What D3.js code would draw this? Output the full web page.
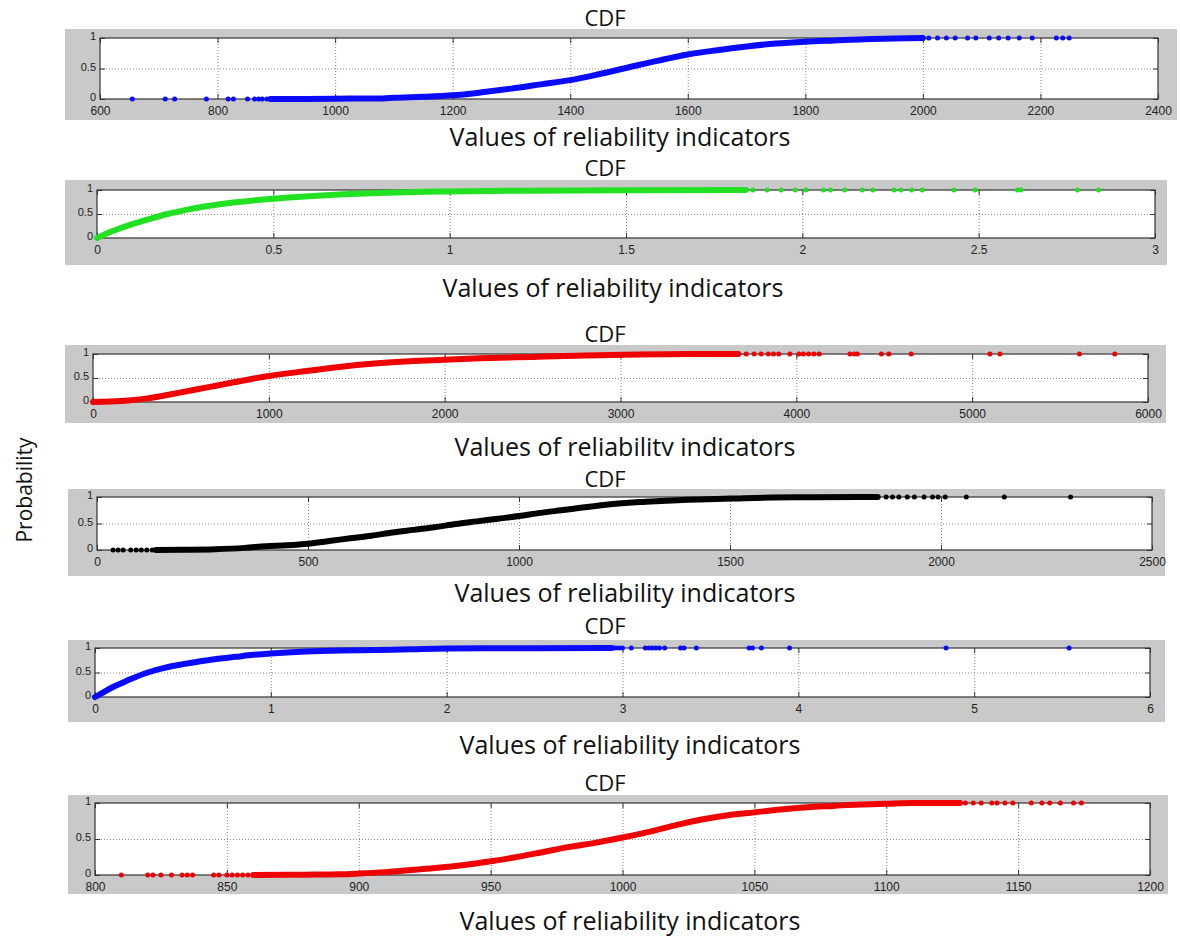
<!DOCTYPE html>
<html>
<head>
<meta charset="utf-8">
<script src="https://cdn.jsdelivr.net/npm/d3@7"></script>
<style>
  body { margin: 0; background: #fff; }
  .lbl { font-family: "Open Sans", "Noto Sans", sans-serif; fill: #111; }
  .tick text { font-family: "Liberation Sans Narrow", "Liberation Sans", Arial, sans-serif; font-size: 12px; fill: #222; }
  .ylab .tick text { font-size: 11px; }
  .grid line { stroke: #888; stroke-dasharray: 1, 2; }
  .grid path { display: none; }
  .ax path { display: none; }
  .ax line { stroke: #333; }
</style>
</head>
<body>
<svg width="1180" height="936"></svg>
<script>
// text
const titles = ['CDF', 'CDF', 'CDF', 'CDF', 'CDF', 'CDF']
const xLabel = 'Values of reliability indicators'
const yLabel = 'Probability'
const yTicks = [0, 0.5, 1]

// panel 1 (blue)
const xTicks1 = [600, 800, 1000, 1200, 1400, 1600, 1800, 2000, 2200, 2400]
const curveX1 = [890, 950, 1000, 1050, 1080, 1100, 1150, 1200, 1250, 1300, 1350, 1400, 1450, 1500, 1550, 1600, 1650, 1700, 1750, 1800, 1850, 1900, 1950, 2000]
const curveP1 = [0, 0.002, 0.005, 0.008, 0.01, 0.02, 0.035, 0.06, 0.11, 0.17, 0.24, 0.31, 0.41, 0.52, 0.63, 0.73, 0.8, 0.86, 0.91, 0.94, 0.96, 0.98, 0.99, 1]
const lowTail1 = [655, 711, 727, 781, 818, 827, 851, 863, 870, 876, 884]
const highTail1 = [2010, 2025, 2040, 2055, 2076, 2090, 2113, 2129, 2145, 2164, 2186, 2227, 2238, 2249]

// panel 2 (green)
const xTicks2 = [0, 0.5, 1, 1.5, 2, 2.5, 3]
const curveX2 = [0, 0.02, 0.05, 0.1, 0.15, 0.2, 0.25, 0.3, 0.4, 0.5, 0.6, 0.7, 0.8, 0.9, 1, 1.2, 1.5, 1.84]
const curveP2 = [0, 0.07, 0.16, 0.29, 0.4, 0.5, 0.58, 0.65, 0.75, 0.82, 0.87, 0.91, 0.94, 0.96, 0.97, 0.985, 0.995, 1]
const lowTail2 = []
const highTail2 = [1.86, 1.9, 1.94, 1.98, 2.01, 2.06, 2.08, 2.12, 2.17, 2.2, 2.26, 2.28, 2.31, 2.34, 2.43, 2.49, 2.61, 2.62, 2.78, 2.84]

// panel 3 (red)
const xTicks3 = [0, 1000, 2000, 3000, 4000, 5000, 6000]
const curveX3 = [0, 100, 200, 300, 400, 500, 600, 700, 800, 900, 1000, 1200, 1400, 1600, 1800, 2000, 2200, 2500, 2800, 3100, 3400, 3670]
const curveP3 = [0, 0.01, 0.03, 0.07, 0.13, 0.2, 0.27, 0.34, 0.41, 0.48, 0.54, 0.64, 0.73, 0.8, 0.85, 0.88, 0.91, 0.94, 0.97, 0.99, 1, 1]
const lowTail3 = []
const highTail3 = [3715, 3760, 3800, 3840, 3870, 3900, 3963, 4015, 4040, 4070, 4100, 4130, 4305, 4330, 4347, 4484, 4526, 4653, 5101, 5158, 5610, 5811]

// panel 4 (black)
const xTicks4 = [0, 500, 1000, 1500, 2000, 2500]
const curveX4 = [140, 200, 280, 350, 400, 450, 500, 550, 600, 650, 700, 750, 800, 850, 900, 950, 1000, 1050, 1100, 1150, 1200, 1300, 1400, 1500, 1600, 1700, 1850]
const curveP4 = [0, 0.005, 0.015, 0.04, 0.07, 0.09, 0.12, 0.17, 0.22, 0.27, 0.33, 0.38, 0.43, 0.49, 0.54, 0.59, 0.64, 0.7, 0.75, 0.8, 0.85, 0.91, 0.95, 0.97, 0.99, 0.995, 1]
const lowTail4 = [38, 50, 62, 80, 93, 105, 118, 131]
const highTail4 = [1870, 1885, 1900, 1920, 1937, 1960, 1980, 1993, 2010, 2060, 2150, 2307]

// panel 5 (blue)
const xTicks5 = [0, 1, 2, 3, 4, 5, 6]
const curveX5 = [0, 0.05, 0.1, 0.15, 0.2, 0.3, 0.4, 0.5, 0.6, 0.7, 0.8, 0.9, 1, 1.2, 1.4, 1.6, 1.8, 2, 2.5, 2.94]
const curveP5 = [0, 0.1, 0.2, 0.28, 0.36, 0.5, 0.6, 0.67, 0.73, 0.78, 0.82, 0.86, 0.89, 0.93, 0.95, 0.96, 0.975, 0.99, 0.995, 1]
const lowTail5 = []
const highTail5 = [2.96, 2.98, 3, 3.05, 3.13, 3.15, 3.17, 3.19, 3.21, 3.24, 3.33, 3.35, 3.42, 3.72, 3.74, 3.79, 3.95, 4.84, 5.54]

// panel 6 (red)
const xTicks6 = [800, 850, 900, 950, 1000, 1050, 1100, 1150, 1200]
const curveX6 = [860, 880, 893, 900, 910, 920, 930, 940, 950, 960, 970, 980, 990, 1000, 1010, 1020, 1030, 1040, 1050, 1060, 1070, 1080, 1090, 1100, 1110, 1128]
const curveP6 = [0, 0.005, 0.01, 0.02, 0.04, 0.07, 0.1, 0.14, 0.19, 0.25, 0.32, 0.39, 0.45, 0.52, 0.6, 0.69, 0.77, 0.83, 0.87, 0.91, 0.94, 0.96, 0.98, 0.99, 1, 1]
const lowTail6 = [810, 820, 822, 825, 829, 833, 835, 837, 845, 847, 850, 852, 854, 856, 858]
const highTail6 = [1130, 1133, 1136, 1140, 1142, 1145, 1148, 1155, 1159, 1162, 1166, 1171, 1174]

const panels = [
  { ticks: xTicks1, cx: curveX1, cp: curveP1, low: lowTail1, high: highTail1 },
  { ticks: xTicks2, cx: curveX2, cp: curveP2, low: lowTail2, high: highTail2 },
  { ticks: xTicks3, cx: curveX3, cp: curveP3, low: lowTail3, high: highTail3 },
  { ticks: xTicks4, cx: curveX4, cp: curveP4, low: lowTail4, high: highTail4 },
  { ticks: xTicks5, cx: curveX5, cp: curveP5, low: lowTail5, high: highTail5 },
  { ticks: xTicks6, cx: curveX6, cp: curveP6, low: lowTail6, high: highTail6 }
]

// where each panel sits: plot box [left, right, top, bottom], grey frame, text rows
// labelClip: the scanned figure cuts some labels off at the bottom
const layout = [
  { box: [100, 1158, 38, 99], frame: [65, 1177, 29, 120], titleY: 17, labelX: 620, labelY: 136, labelClip: null, color: '#0a0aff' },
  { box: [97, 1155, 190, 238], frame: [65, 1167, 180, 265], titleY: 167, labelX: 613, labelY: 287, labelClip: null, color: '#22e022' },
  { box: [93, 1148, 354, 402], frame: [65, 1166, 345, 423], titleY: 333, labelX: 625, labelY: 446, labelClip: 456, color: '#f00000' },
  { box: [97, 1152, 497, 550], frame: [68, 1165, 489, 576], titleY: 478, labelX: 625, labelY: 592, labelClip: null, color: '#000000' },
  { box: [95, 1150, 648, 697], frame: [68, 1165, 640, 722], titleY: 625, labelX: 630, labelY: 744, labelClip: null, color: '#0a0aff' },
  { box: [95, 1150, 803, 875], frame: [68, 1168, 795, 894], titleY: 782, labelX: 630, labelY: 920, labelClip: null, color: '#f00000' }
]

const svg = d3.select('svg')

panels.forEach(function(p, i) {
  const lay = layout[i]
  const [L, R, T, B] = lay.box
  const [fl, fr, ft, fb] = lay.frame
  const g = svg.append('g')

  const x = d3.scaleLinear().domain(d3.extent(p.ticks)).range([L, R])
  const y = d3.scaleLinear().domain([0, 1]).range([B, T])

  // grey figure frame + white axes
  g.append('rect')
    .attr('x', fl).attr('y', ft)
    .attr('width', fr - fl).attr('height', fb - ft)
    .attr('fill', '#c9c9c9')
  g.append('rect')
    .attr('x', L).attr('y', T)
    .attr('width', R - L).attr('height', B - T)
    .attr('fill', '#fff')

  // clipped leftover of the old y label (first two panels)
  if (i < 2) {
    const cid = 'clip' + i
    g.append('clipPath').attr('id', cid)
      .append('rect').attr('x', fl).attr('y', ft).attr('width', 20).attr('height', fb - ft)
    g.append('text')
      .attr('clip-path', 'url(#' + cid + ')')
      .attr('transform', `translate(${fl + 5}, ${(T + B) / 2}) rotate(-90)`)
      .attr('text-anchor', 'middle')
      .style('font-family', 'Liberation Sans, Arial, sans-serif')
      .style('font-size', '10px')
      .attr('fill', '#444')
      .text('Prob.')
  }

  // dotted grid
  g.append('g')
    .attr('class', 'grid')
    .attr('transform', `translate(0, ${B})`)
    .call(d3.axisBottom(x).tickValues(p.ticks.slice(1, -1)).tickSize(-(B - T)).tickFormat(''))
  g.append('g')
    .attr('class', 'grid')
    .attr('transform', `translate(${L}, 0)`)
    .call(d3.axisLeft(y).tickValues([0.5]).tickSize(-(R - L)).tickFormat(''))

  // inward ticks on all four sides
  g.append('g')
    .attr('class', 'ax')
    .attr('transform', `translate(0, ${B})`)
    .call(d3.axisBottom(x).tickValues(p.ticks).tickSizeInner(-5).tickSizeOuter(0).tickPadding(7).tickFormat(d => String(d)))
  g.append('g')
    .attr('class', 'ax')
    .attr('transform', `translate(0, ${T})`)
    .call(d3.axisTop(x).tickValues(p.ticks).tickSizeInner(-5).tickSizeOuter(0).tickFormat(''))
  g.append('g')
    .attr('class', 'ax ylab')
    .attr('transform', `translate(${L}, 0)`)
    .call(d3.axisLeft(y).tickValues(yTicks).tickSizeInner(-5).tickSizeOuter(0).tickPadding(4).tickFormat(d => String(d)))
    .selectAll('text')
    .attr('dy', '0.15em')
  g.append('g')
    .attr('class', 'ax')
    .attr('transform', `translate(${R}, 0)`)
    .call(d3.axisRight(y).tickValues(yTicks).tickSizeInner(-5).tickSizeOuter(0).tickFormat(''))

  g.append('rect')
    .attr('x', L).attr('y', T)
    .attr('width', R - L).attr('height', B - T)
    .attr('fill', 'none')
    .attr('stroke', '#333')
    .attr('stroke-width', 1.2)

  // the cdf curve
  const pts = p.cx.map((v, k) => [v, p.cp[k]])
  const line = d3.line()
    .x(d => x(d[0]))
    .y(d => y(d[1]))
    .curve(d3.curveMonotoneX)
  g.append('path')
    .datum(pts)
    .attr('d', line)
    .attr('fill', 'none')
    .attr('stroke', lay.color)
    .attr('stroke-width', 6)
    .attr('stroke-linecap', 'round')

  // isolated samples in the tails
  g.selectAll('.lo')
    .data(p.low)
    .enter()
    .append('circle')
    .attr('cx', d => x(d))
    .attr('cy', y(0))
    .attr('r', 2.5)
    .attr('fill', lay.color)
  g.selectAll('.hi')
    .data(p.high)
    .enter()
    .append('circle')
    .attr('cx', d => x(d))
    .attr('cy', y(1))
    .attr('r', 2.5)
    .attr('fill', lay.color)

  // titles
  g.append('text')
    .attr('class', 'lbl')
    .attr('x', 605).attr('y', lay.titleY)
    .attr('text-anchor', 'middle')
    .attr('dominant-baseline', 'central')
    .style('font-size', '22px')
    .text(titles[i])

  const xl = g.append('text')
    .attr('class', 'lbl')
    .attr('x', lay.labelX).attr('y', lay.labelY)
    .attr('text-anchor', 'middle')
    .attr('dominant-baseline', 'central')
    .style('font-size', '25px')
    .text(xLabel)
  if (lay.labelClip) {
    const lid = 'lclip' + i
    g.append('clipPath').attr('id', lid)
      .append('rect').attr('x', 0).attr('y', lay.labelY - 30).attr('width', 1180).attr('height', lay.labelClip - lay.labelY + 30)
    xl.attr('clip-path', 'url(#' + lid + ')')
  }
})

svg.append('text')
  .attr('class', 'lbl')
  .attr('transform', 'translate(24, 490) rotate(-90)')
  .attr('text-anchor', 'middle')
  .attr('dominant-baseline', 'central')
  .style('font-size', '21px')
  .text(yLabel)
</script>
</body>
</html>
